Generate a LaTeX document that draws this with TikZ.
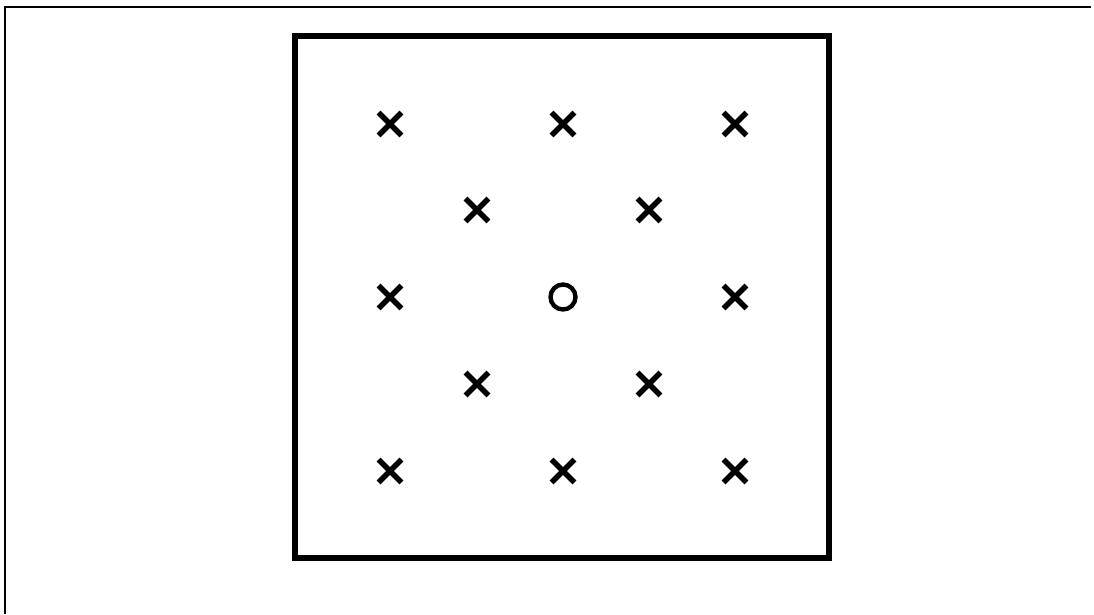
\documentclass[tikz,border=0pt]{standalone}
\usetikzlibrary{shapes.misc}
\begin{document}
\begin{tikzpicture}[x=1pt,y=-1pt,
  xmark/.style={cross out,draw,line width=5.4pt,minimum size=17.5pt,inner sep=0pt},
  omark/.style={circle,draw,line width=4.4pt,minimum size=25pt,inner sep=0pt},
  frame/.style={line width=1.5pt}]
\useasboundingbox (0,0) rectangle (1094,615);
\draw[frame] (5,614) -- (5,7) -- (1091,7);
\draw[line width=5.5pt] (295,36) rectangle (829,558);
\node[xmark] (a1) at (390,124) {};
\node[xmark] (a2) at (563,124) {};
\node[xmark] (a3) at (735,124) {};
\node[xmark] (b1) at (477,210) {};
\node[xmark] (b2) at (649,210) {};
\node[xmark] (c1) at (390,297) {};
\node[omark] (c2) at (563,297) {};
\node[xmark] (c3) at (735,297) {};
\node[xmark] (d1) at (477,384) {};
\node[xmark] (d2) at (649,384) {};
\node[xmark] (e1) at (390,471) {};
\node[xmark] (e2) at (563,471) {};
\node[xmark] (e3) at (735,471) {};
\end{tikzpicture}
\end{document}
